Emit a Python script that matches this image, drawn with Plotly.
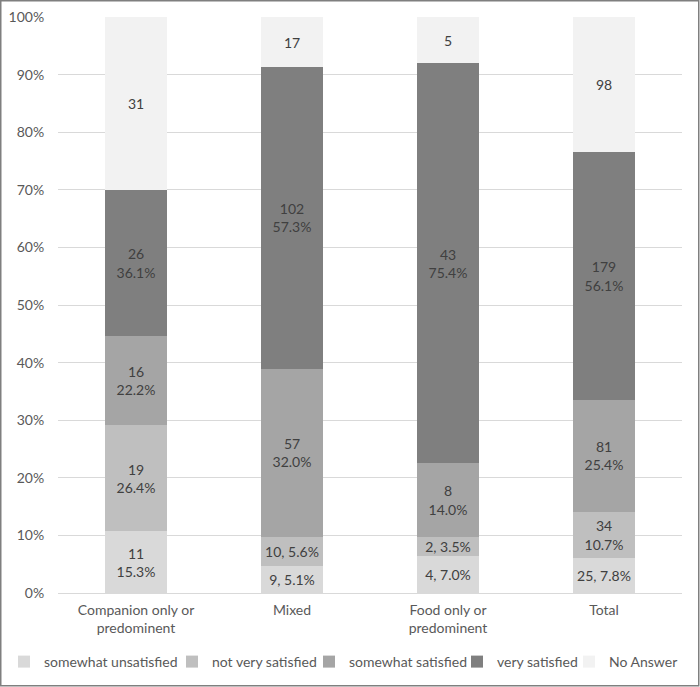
import plotly.graph_objects as go

categories = ["Companion only or<br>predominent", "Mixed", "Food only or<br>predominent", "Total"]
series_names = ["somewhat unsatisfied", "not very satisfied", "somewhat satisfied", "very satisfied", "No Answer"]
somewhat_unsatisfied = [11, 9, 4, 25]
not_very_satisfied = [19, 10, 2, 34]
somewhat_satisfied = [16, 57, 8, 81]
very_satisfied = [26, 102, 43, 179]
no_answer = [31, 17, 5, 98]
# labels as printed on the chart (share of answering respondents)
label_unsat = ["11<br>15.3%", "9, 5.1%", "4, 7.0%", "25, 7.8%"]
label_notvery = ["19<br>26.4%", "10, 5.6%", "2, 3.5%", "34<br>10.7%"]
label_somewhat = ["16<br>22.2%", "57<br>32.0%", "8<br>14.0%", "81<br>25.4%"]
label_very = ["26<br>36.1%", "102<br>57.3%", "43<br>75.4%", "179<br>56.1%"]
label_na = ["31", "17", "5", "98"]

colors = ["#d9d9d9", "#bfbfbf", "#a5a5a5", "#7f7f7f", "#f2f2f2"]
values = [somewhat_unsatisfied, not_very_satisfied, somewhat_satisfied, very_satisfied, no_answer]
labels = [label_unsat, label_notvery, label_somewhat, label_very, label_na]

totals = [sum(v[i] for v in values) for i in range(len(categories))]

FONT = "Lato, Open Sans, sans-serif"

W, H = 700, 687
L, R, T, B = 58, 18, 17, 94
pw, ph = W - L - R, H - T - B

legend_names = ["legend", "legend2", "legend3", "legend4", "legend5"]
legend_text_x = [44, 212, 349, 497, 609]  # pixel x where each legend text starts

fig = go.Figure()
for name, vals, labs, col, lg in zip(series_names, values, labels, colors, legend_names):
    fig.add_trace(go.Bar(
        name=name,
        x=categories,
        y=[v / t for v, t in zip(vals, totals)],
        text=labs,
        textposition="inside",
        insidetextanchor="middle",
        textangle=0,
        textfont=dict(color="#404040", size=14, family=FONT),
        marker=dict(color=col, line=dict(width=0)),
        hoverinfo="name+y",
        legend=lg,
        showlegend=True,
    ))

legend_layout = {}
for lg, tx in zip(legend_names, legend_text_x):
    legend_layout[lg] = dict(
        orientation="h",
        xref="container", yref="container",
        x=(tx - 40) / W, xanchor="left",
        y=1 - 662 / H, yanchor="middle",
        font=dict(size=14, color="#595959", family=FONT),
        bgcolor="rgba(0,0,0,0)",
        borderwidth=0,
        itemwidth=30,
        visible=True,
    )

fig.update_layout(
    barmode="stack",
    showlegend=True,
    width=W, height=H,
    margin=dict(l=L, r=R, t=T, b=B, autoexpand=False),
    paper_bgcolor="white",
    plot_bgcolor="white",
    bargap=0.6,
    font=dict(family=FONT, color="#595959", size=14),
    uniformtext=dict(minsize=13, mode="show"),
    xaxis=dict(
        showgrid=False,
        showline=False,
        ticks="",
        automargin=False,
        ticklabelstandoff=7,
        tickfont=dict(size=14, color="#595959"),
    ),
    yaxis=dict(
        range=[0, 1],
        tickvals=[i / 10 for i in range(11)],
        tickformat=".0%",
        showgrid=True,
        gridcolor="#d9d9d9",
        gridwidth=1,
        zeroline=True,
        zerolinecolor="#d9d9d9",
        zerolinewidth=1,
        showline=False,
        ticks="outside",
        ticklen=10,
        tickcolor="rgba(0,0,0,0)",
        automargin=False,
        tickfont=dict(size=14, color="#595959"),
    ),
    shapes=[dict(
        type="rect", xref="paper", yref="paper",
        x0=(0.75 - L) / pw, x1=(W - 1.25 - L) / pw,
        y0=-(H - 1.25 - T - ph) / ph, y1=(T + ph - 0.75) / ph,
        line=dict(color="#7f7f7f", width=1.5),
        fillcolor="rgba(0,0,0,0)",
        layer="above",
    )],
    **legend_layout,
)

fig.write_html("out.html", config={"displayModeBar": False},
               post_script="document.body.style.margin='0';")
